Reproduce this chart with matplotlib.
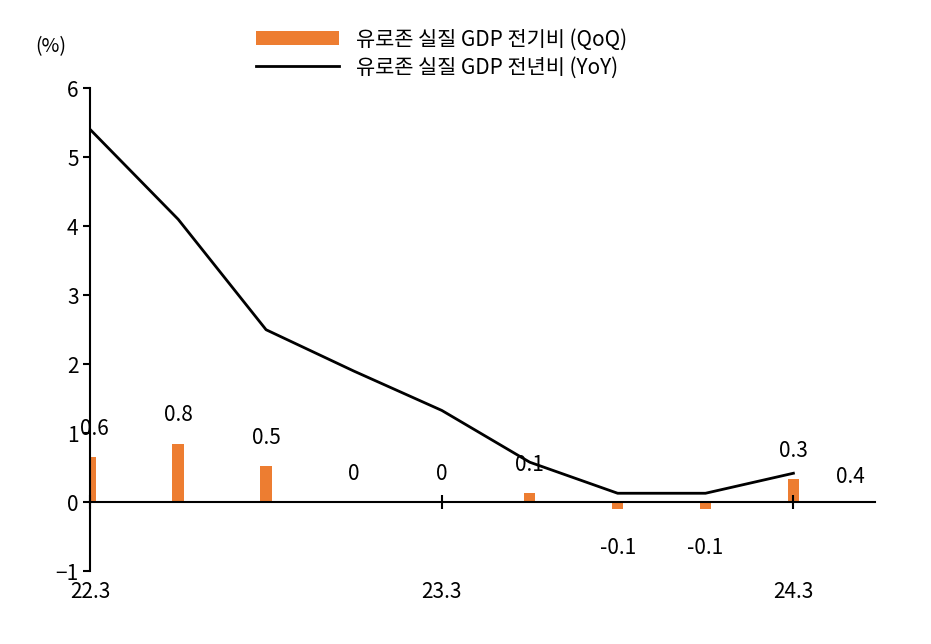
import matplotlib.pyplot as plt

plt.rcParams['font.family'] = ['Noto Sans CJK KR', 'Noto Sans CJK JP', 'Noto Sans CJK SC', 'DejaVu Sans']

quarters = ['22.3', '22.4', '23.1', '23.2', '23.3', '23.4', '24.1', '24.2', '24.3', '24.4']
qoq = [0.65, 0.85, 0.52, 0.0, 0.0, 0.13, -0.1, -0.1, 0.33, 0.4]
qoq_labels = ['0.6', '0.8', '0.5', '0', '0', '0.1', '-0.1', '-0.1', '0.3', '0.4']
yoy = [5.4, 4.1, 2.5, 1.9, 1.33, 0.58, 0.13, 0.13, 0.42]

fig = plt.figure(figsize=(9.31, 6.44), dpi=100)
ax = fig.add_axes([0.097, 0.113, 0.843, 0.75])

x = list(range(len(quarters)))
ax.bar(x, qoq, width=0.13, color='#ED7D31', label='유로존 실질 GDP 전기비 (QoQ)')
ax.plot(x[:len(yoy)], yoy, color='black', lw=2, label='유로존 실질 GDP 전년비 (YoY)')

for i, (v, lab) in enumerate(zip(qoq, qoq_labels)):
    if i == 9:
        ax.text(8.65, 0.2, lab, ha='center', va='bottom', fontsize=15)
    elif v < 0:
        ax.text(i, -0.5, lab, ha='center', va='top', fontsize=15)
    else:
        ax.text(i + (0.05 if i == 0 else 0), v + 0.25, lab, ha='center', va='bottom', fontsize=15)

ax.set_xlim(0, 8.93)
ax.set_ylim(-1, 6)
ax.spines['top'].set_visible(False)
ax.spines['right'].set_visible(False)
ax.spines['bottom'].set_position(('data', 0))
ax.spines['left'].set_linewidth(1.5)
ax.spines['bottom'].set_linewidth(1.5)
ax.set_yticks(range(-1, 7))
ax.set_yticklabels(['−1', '0', '1', '2', '3', '4', '5', '6'], fontsize=15)
ax.tick_params(axis='y', direction='out', length=5, width=1.5)
ax.set_xticks([0, 4, 8])
ax.set_xticklabels([])
ax.tick_params(axis='x', direction='inout', length=10, width=1.5)
for i in [0, 4, 8]:
    ax.text(i, -1.3, quarters[i], ha='center', va='center', fontsize=15)
ax.text(-0.45, 6.6, '(%)', ha='center', va='center', fontsize=14)

handles, labels = ax.get_legend_handles_labels()
fig.legend(handles[::-1], labels[::-1], loc='upper left', bbox_to_anchor=(0.255, 0.985),
           frameon=False, fontsize=15, handlelength=4, labelspacing=0.3)

fig.savefig('out.png', dpi=100)
